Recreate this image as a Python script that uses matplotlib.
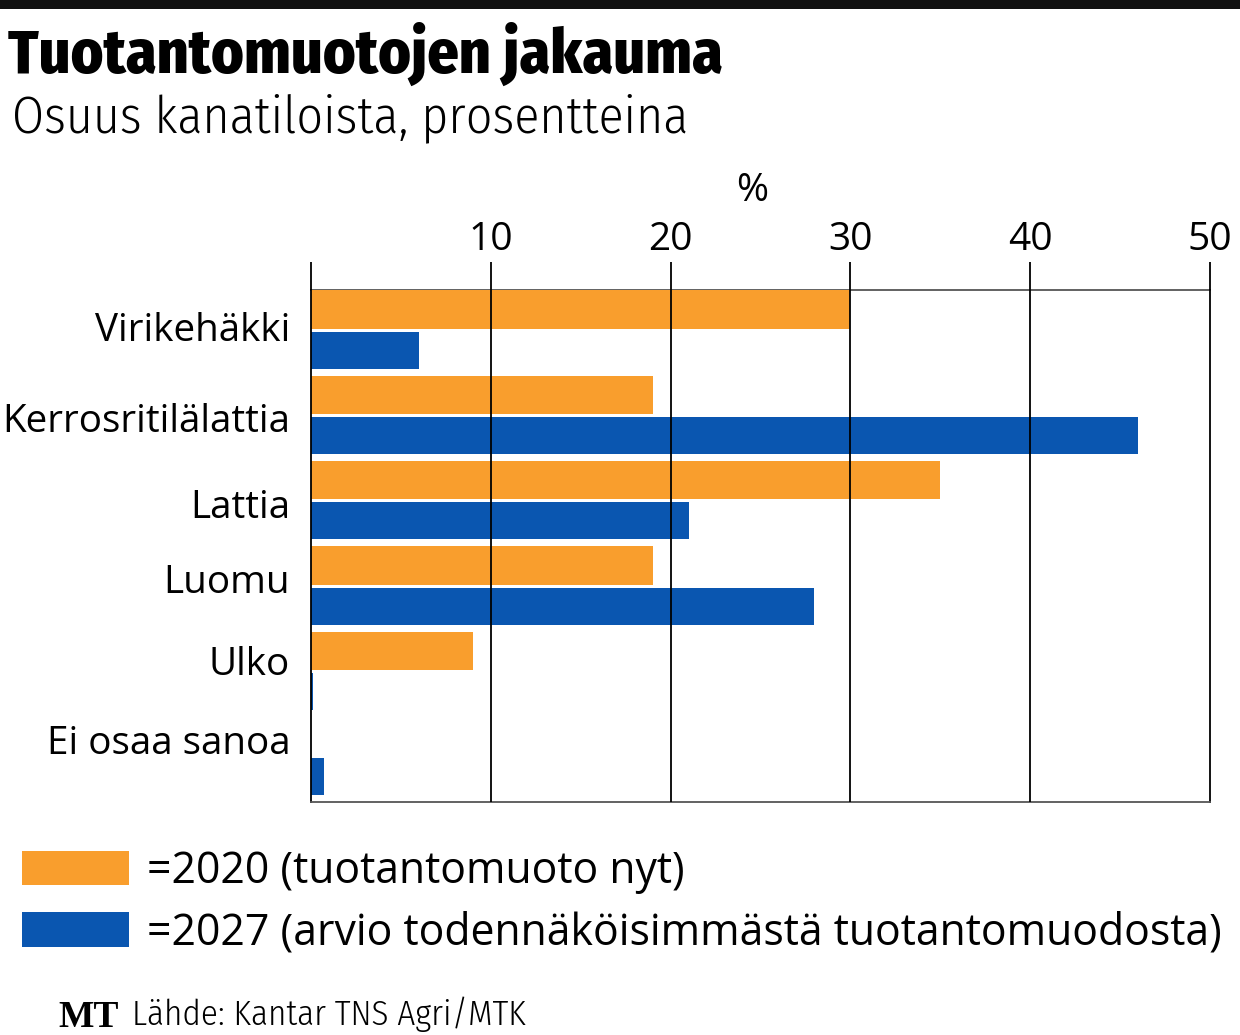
import numpy as np
import matplotlib
matplotlib.use("Agg")
import matplotlib.pyplot as plt
from matplotlib.patches import Rectangle, Patch

categories = ["Virikehäkki", "Kerrosritilälattia", "Lattia", "Luomu", "Ulko", "Ei osaa sanoa"]
values_2020 = [30, 19, 35, 19, 9, 0]
values_2027 = [6, 46, 21, 28, 0.1, 0.7]
xtick_values = [0, 10, 20, 30, 40, 50]
xtick_labels = ["", "10", "20", "30", "40", "50"]
legend_labels = ["=2020 (tuotantomuoto nyt)",
                 "=2027 (arvio todennäköisimmästä tuotantomuodosta)"]

ORANGE = "#F99E2D"
BLUE = "#0A56B0"
BODY = ["Open Sans", "DejaVu Sans"]
LIGHT = ["Fira Sans Condensed", "Roboto Condensed", "DejaVu Sans"]
TITLE = ["Fira Sans Condensed", "Open Sans Condensed", "DejaVu Sans"]

plt.rcParams["font.family"] = BODY

fig = plt.figure(figsize=(12.4, 10.35), dpi=100)
ax = fig.add_axes([311 / 1240, 1 - 802 / 1035, 899 / 1240, 512 / 1035])

y = np.arange(len(categories))
ax.barh(y - 0.27, values_2020, height=0.45, color=ORANGE, zorder=1)
ax.barh(y + 0.205, values_2027, height=0.43, color=BLUE, zorder=1)

ax.set_xlim(0, 50)
ax.set_ylim(len(categories) - 0.5, -0.5)

ax.xaxis.tick_top()
ax.set_xticks(xtick_values)
ax.set_xticklabels(xtick_labels, fontsize=28)
ax.tick_params(axis="x", length=20, width=1.3, pad=2.5, color="black")

# category labels sit a little above the middle of each pair of bars
label_shift = [-0.07, -0.01, 0.0, -0.12, -0.16, -0.23]
ax.set_yticks(y + np.array(label_shift))
ax.set_yticklabels(categories, fontsize=27.8)
ax.tick_params(axis="y", length=0, pad=15)

for v in xtick_values[1:-1]:
    ax.axvline(v, color="black", lw=1.3, zorder=3)

for side in ["left", "right"]:
    ax.spines[side].set_color("black")
    ax.spines[side].set_linewidth(1.3)
for side in ["top", "bottom"]:
    ax.spines[side].set_color("#555555")
    ax.spines[side].set_linewidth(1.3)
ax.spines["top"].set_zorder(0.5)

fig.text(752 / 1240, 1 - 191 / 1035, "%", ha="center", va="center", fontsize=28)

# top rule and headings
fig.add_artist(Rectangle((0, 1 - 9 / 1035), 1, 9 / 1035, transform=fig.transFigure,
                         color="#111111", lw=0))
fig.text(8 / 1240, 1 - 73 / 1035, "Tuotantomuotojen jakauma", family=TITLE,
         fontweight=800, fontsize=44.4, va="baseline", ha="left")
fig.text(12 / 1240, 1 - 132 / 1035, "Osuus kanatiloista, prosentteina", family=LIGHT,
         fontweight=300, fontsize=37.2, va="baseline", ha="left")

handles = [Patch(color=ORANGE, lw=0), Patch(color=BLUE, lw=0)]
fig.legend(handles, legend_labels, loc="upper left", bbox_to_anchor=(22 / 1240, 1 - 849 / 1035),
           frameon=False, fontsize=30.8, handlelength=2.5, handleheight=0.86,
           handletextpad=0.42, labelspacing=0.4, borderpad=0, borderaxespad=0)

fig.text(58 / 1240, 1 - 1027 / 1035, "MT", family=["Liberation Serif", "DejaVu Serif"],
         fontweight="bold", fontsize=27, va="baseline", ha="left")
fig.text(132 / 1240, 1 - 1025 / 1035, "Lähde: Kantar TNS Agri/MTK", family=LIGHT,
         fontweight=300, fontsize=25.2, va="baseline", ha="left")

fig.savefig("out.png", dpi=100)
